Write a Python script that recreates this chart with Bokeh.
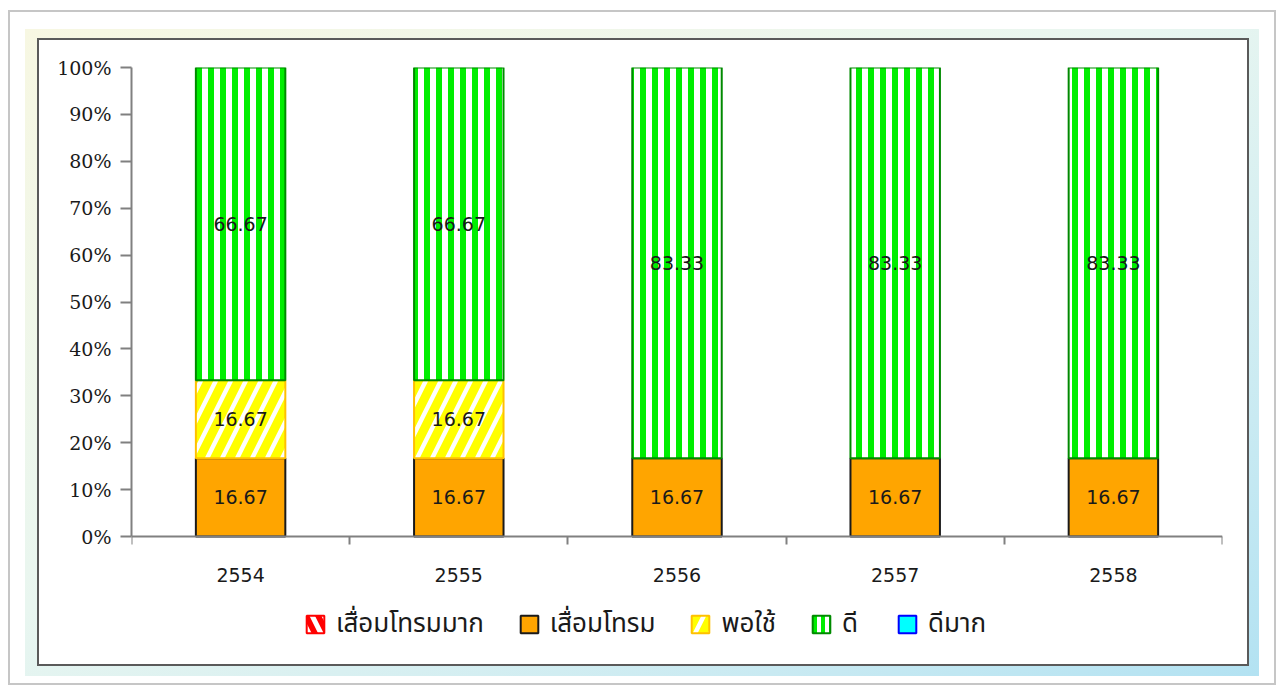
from bokeh.plotting import figure
from bokeh.models import ColumnDataSource, FixedTicker, Legend, LegendItem
from bokeh.core.properties import value
from bokeh.embed import file_html
from bokeh.resources import INLINE

years = ["2554", "2555", "2556", "2557", "2558"]
series_names = ["เสื่อมโทรมมาก", "เสื่อมโทรม", "พอใช้", "ดี", "ดีมาก"]
very_poor = [0, 0, 0, 0, 0]
poor = [16.67, 16.67, 16.67, 16.67, 16.67]
fair = [16.67, 16.67, 0, 0, 0]
good = [66.67, 66.67, 83.33, 83.33, 83.33]
very_good = [0, 0, 0, 0, 0]
y_ticks = [0, 10, 20, 30, 40, 50, 60, 70, 80, 90, 100]

keys = ["s0", "s1", "s2", "s3", "s4"]
values = [very_poor, poor, fair, good, very_good]
xs = list(range(len(years)))
data = {"x": xs}
for k, v in zip(keys, values):
    data[k] = v
    data["a_" + k] = [1.0 if t > 0 else 0.0 for t in v]
src = ColumnDataSource(data)

# layout (pixels)
W, H = 1280, 688
frame_left, frame_right, frame_top, frame_bottom = 131, 1222, 67, 655
zero_px = 536  # where 0% sits; the frame continues below it to hold the legend
px_per_pct = (zero_px - frame_top) / 100.0
y_start = -(frame_bottom - zero_px) / px_per_pct

p = figure(width=W, height=H, x_range=(-0.5, len(years) - 0.5), y_range=(y_start, 100),
           output_backend="svg", toolbar_location=None,
           min_border_left=frame_left, min_border_right=W - frame_right,
           min_border_top=frame_top, min_border_bottom=H - frame_bottom)
p.background_fill_alpha = 0
p.border_fill_alpha = 0
p.outline_line_color = None
p.xgrid.visible = False
p.ygrid.visible = False

# decorative frame drawn behind the transparent canvas (CSS layers, top first)
def layer(color, x, y, w, h):
    return f"linear-gradient({color},{color}) {x}px {y}px / {w}px {h}px no-repeat"

band = ("linear-gradient(to bottom right, #f7f7e2, #e9f6f0 45%, #c9eaf2 80%, #b3e2f2) "
        "25px 29px / 1234px 647px no-repeat")
p.styles = {"background": ", ".join([
    layer("#ffffff", 39, 40, 1208, 624),
    layer("#5a5a5a", 37, 38, 1212, 628),
    band,
    layer("#ffffff", 10, 12, 1264, 671),
    layer("#c6c6c6", 8, 10, 1268, 675),
])}

fills = ["#FF0000", "#FFA500", "white", "white", "#00FFFF"]
hatch_colors = ["white", "white", "#FFFF00", "#00EE00", "white"]
hatches = ["\\", " ", "/", "|", " "]
hatch_scales = [26, 12, 30, 12, 12]
hatch_weights = [5, 1, 9, 6, 1]
lines = ["#FF0000", "#1a1a1a", "#FFC000", "#008A00", "#0000FF"]
bar_w = 0.41

p.vbar_stack(keys, x="x", width=bar_w, source=src,
             fill_color=fills, line_color=lines, line_width=2,
             line_alpha=["a_" + k for k in keys],
             hatch_pattern=hatches, hatch_color=hatch_colors,
             hatch_scale=hatch_scales, hatch_weight=hatch_weights)

# legend proxies (one undrawable NaN bar each) carrying each series' style
leg_rs = []
for i in range(len(keys)):
    leg_rs.append(p.vbar(x=[0], top=[float("nan")], bottom=[0], width=bar_w,
                         fill_color=fills[i], line_color=lines[i], line_width=2,
                         hatch_pattern=hatches[i], hatch_color=hatch_colors[i],
                         hatch_scale=[24, 12, 30, 8, 12][i], hatch_weight=[5, 1, 9, 4, 1][i]))

# segment labels
lx, ly, lt = [], [], []
for i in xs:
    base = 0
    for v in values:
        if v[i] > 0:
            lx.append(i)
            ly.append(base + v[i] / 2)
            lt.append(f"{v[i]:.2f}")
        base += v[i]
p.text(x=lx, y=ly, text=lt, text_align="center", text_baseline="middle",
       text_font=value("DejaVu Sans"), text_font_size="19px", text_color="#1a1a1a")

# axes
p.yaxis.ticker = FixedTicker(ticks=y_ticks)
p.yaxis.bounds = (0, 100)
p.yaxis.major_label_overrides = {t: f"{t}%" for t in y_ticks}
p.yaxis.major_label_text_font = "DejaVu Serif"
p.yaxis.major_label_text_font_size = "19px"
p.yaxis.major_label_text_color = "#1a1a1a"
p.yaxis.axis_line_color = "#808080"
p.yaxis.axis_line_width = 2
p.yaxis.major_tick_line_color = "#808080"
p.yaxis.major_tick_line_width = 2
p.yaxis.major_tick_out = 11
p.yaxis.major_tick_in = 0
p.yaxis.minor_tick_line_color = None
p.yaxis.major_label_standoff = 9

p.xaxis.fixed_location = 0
p.xaxis.ticker = FixedTicker(ticks=xs, minor_ticks=[i - 0.5 for i in range(len(years) + 1)])
p.xaxis.major_label_overrides = {i: y for i, y in zip(xs, years)}
p.xaxis.major_label_text_font = "DejaVu Sans"
p.xaxis.major_label_text_font_size = "19px"
p.xaxis.major_label_text_color = "#1a1a1a"
p.xaxis.axis_line_color = "#808080"
p.xaxis.axis_line_width = 2
p.xaxis.major_tick_out = 0
p.xaxis.major_tick_in = 0
p.xaxis.minor_tick_line_color = "#808080"
p.xaxis.minor_tick_line_width = 2
p.xaxis.minor_tick_out = 8
p.xaxis.minor_tick_in = 0
p.xaxis.major_label_standoff = 23

legend = Legend(items=[LegendItem(label=n, renderers=[r]) for n, r in zip(series_names, leg_rs)],
                orientation="horizontal", location=(173, 11),
                label_text_font="Tahoma, 'Noto Sans Thai', 'Noto Sans', sans-serif",
                label_text_font_size="26px", label_text_color="#1a1a1a",
                glyph_width=22, glyph_height=22, spacing=34, label_standoff=10,
                border_line_color=None, background_fill_alpha=0, margin=0, padding=6)
p.add_layout(legend, "center")

open("out.html", "w").write(file_html(p, INLINE))
